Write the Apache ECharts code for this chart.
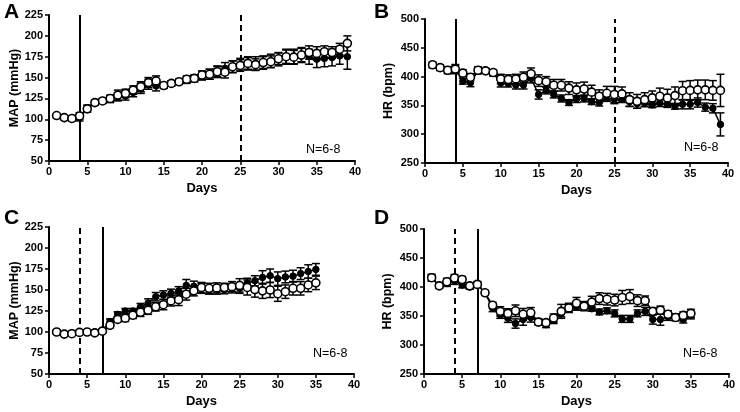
<!DOCTYPE html>
<html><head><meta charset="utf-8">
<script src="https://cdn.jsdelivr.net/npm/echarts@6/dist/echarts.min.js"></script>
<style>html,body{margin:0;padding:0;background:#fff}#c{width:740px;height:412px}</style>
</head><body><div id="c"></div>
<script>
// ---- Data ----
const daysAB = [1,2,3,4,5,6,7,8,9,10,11,12,13,14,15,16,17,18,19,20,21,22,23,24,25,26,27,28,29,30,31,32,33,34,35,36,37,38,39];
const daysCD = [1,2,3,4,5,6,7,8,9,10,11,12,13,14,15,16,17,18,19,20,21,22,23,24,25,26,27,28,29,30,31,32,33,34,35];
const xTicks = [0,5,10,15,20,25,30,35,40];
const mapTicks = [50,75,100,125,150,175,200,225];
const hrTicks = [250,300,350,400,450,500];

// Panel A: MAP
const aOpen   = [104.5,102,101,104,112.5,120,122,125,129,131,135,139,144,146,140.5,143,145,148,149,153,154,157,156.5,163,164.5,167,165.5,168,169,172.5,175,174.5,177,180,179,181,180,184,191];
const aOpenE  = [2,2,2,4,4,3,2,4,6,5,5,6,6,6,3,3,3,4,4,5,6,6,7,7,7,7,7,7,7,7,8,8,8,8,8,7,7,7,9];
const aFill   = [104,101,100,102,113,120,122,124,127,128,132,137,142,140,140,143,145,147,149,152,154,157,161,163,166,167,167,168,170,172,175,175,177,175,172,173,174,176,175];
const aFillE  = [2,2,2,4,4,3,3,4,5,5,5,6,6,6,3,3,3,4,4,5,6,7,7,7,7,8,8,8,8,8,9,9,9,9,10,10,10,10,15];
// Panel B: HR
const bOpen   = [420.5,415.5,411,413,406,399,411,410,407,396,395,396,399,405,393,391,385,385,380,377,378.5,373,366,371,369,370,360,357,360,363,366,363,367,375.5,376,377,377,376,376];
const bOpenE  = [5,5,6,8,6,6,6,4,5,8,8,8,9,10,10,9,10,10,11,12,12,12,11,12,14,12,12,12,12,12,14,15,15,16,17,17,17,17,28];
const bFill   = [420,415,411,413,392,389.5,410,410,406,389,388,385.5,385.5,397,369,376,369,362,355,361,362,356.5,355,362,361,361,356.5,353,354,351,354,352.5,348.5,352,352,355,347,345,317];
const bFillE  = [4,4,5,6,5,7,5,4,5,7,6,7,7,8,8,6,6,6,5,6,6,5,6,5,8,6,8,8,6,5,6,6,5,8,8,8,7,8,20];
// Panel C: MAP
const cOpen   = [100,97.5,98,99.5,100,99,101,108,115,116.5,120,123.5,126,130,132.5,137,138.5,145,149,153,152,152.5,153,154,155.5,153,150.5,149,150,145.5,148,152,152,156,158.5];
const cOpenE  = [2,2,2,2,2,2,2,3,3,4,4,5,5,5,6,6,7,7,6,6,6,6,5,6,8,9,9,9,9,9,8,8,8,8,8];
const cFill   = [100,98,99,100,100,100,102,112.5,121,125,125,130,134.5,142,144,146,149,155.5,154.5,152,150,150,150.5,151.5,152,158,161,165,167,163.5,165.5,166.5,169.5,172,174.5];
const cFillE  = [2,2,2,2,2,2,2,3,3,3,3,4,5,5,5,5,5,7,6,6,5,5,5,5,6,6,6,8,8,8,7,7,7,8,7];
// Panel D: HR
const dOpen   = [416,402,409,415.5,413,402,404.5,390,368.5,358,354.5,359,353,355.5,339.5,338.5,346.5,358,364,372,367,374,380,379,377.5,382,383.5,376.5,376.5,358,360,353,347.5,351,354.5];
const dOpenE  = [6,4,6,6,5,5,5,4,5,8,8,10,10,9,5,5,7,12,8,10,8,10,10,10,10,12,12,10,8,6,7,6,5,6,7];
const dFill   = [416,402,406,410.5,403.5,400,404,390,363.5,352,346,337,344,347.5,340.5,335,343,354.5,363.5,367,368.5,362.5,357,359,354.5,345,345,354.5,358,344,344,348.5,347.5,344,351];
const dFillE  = [5,4,5,6,5,4,5,4,6,6,7,8,10,8,5,5,6,6,6,7,6,4,5,5,6,6,6,6,7,8,10,6,6,6,6];

// ---- Chart ----
const FONT = 'Liberation Sans, Arial, sans-serif';
const grids = [
  {left:49, top:15, width:306, height:146},
  {left:425, top:19, width:303, height:144},
  {left:49, top:227, width:305, height:147},
  {left:424, top:229, width:305, height:145}
];
function xAx(i){
  return {type:'value', gridIndex:i, min:0, max:40, interval:5,
    name:'Days', nameLocation:'middle', nameGap:21,
    nameTextStyle:{fontFamily:FONT, fontWeight:'bold', fontSize:13, color:'#000'},
    axisLine:{show:true, onZero:false, lineStyle:{color:'#000', width:2}},
    axisTick:{show:true, length:4, lineStyle:{color:'#000', width:1.5}},
    axisLabel:{fontFamily:FONT, fontWeight:'bold', fontSize:11, color:'#000', margin:5,
      formatter:v=> xTicks.includes(v)? String(v):''},
    splitLine:{show:false}};
}
function yAx(i, ticks, name, gap){
  return {type:'value', gridIndex:i, min:ticks[0], max:ticks[ticks.length-1], interval:ticks[1]-ticks[0],
    name:name, nameLocation:'middle', nameGap:gap, nameRotate:90,
    nameTextStyle:{fontFamily:FONT, fontWeight:'bold', fontSize:12.5, color:'#000'},
    axisLine:{show:true, onZero:false, lineStyle:{color:'#000', width:2}},
    axisTick:{show:true, length:4, lineStyle:{color:'#000', width:1.5}},
    axisLabel:{fontFamily:FONT, fontWeight:'bold', fontSize:11, color:'#000', margin:6},
    splitLine:{show:false}};
}
function errData(days, vals, errs){ return days.map((d,k)=>[d, vals[k]-errs[k], vals[k]+errs[k]]); }
function renderErr(params, api){
  const x=api.value(0), lo=api.value(1), hi=api.value(2);
  const p1=api.coord([x,lo]), p2=api.coord([x,hi]);
  const w=4, st={stroke:'#000', lineWidth:1.5};
  return {type:'group', children:[
    {type:'line', shape:{x1:p1[0],y1:p1[1],x2:p2[0],y2:p2[1]}, style:st},
    {type:'line', shape:{x1:p1[0]-w,y1:p1[1],x2:p1[0]+w,y2:p1[1]}, style:st},
    {type:'line', shape:{x1:p2[0]-w,y1:p2[1],x2:p2[0]+w,y2:p2[1]}, style:st}
  ]};
}
function errSeries(i, days, vals, errs, z){
  return {type:'custom', xAxisIndex:i, yAxisIndex:i, renderItem:renderErr, z:z,
    encode:{x:0, y:[1,2]}, data:errData(days, vals, errs), silent:true, animation:false};
}
function lineSeries(i, days, vals, open, z, marks){
  const s = {type:'line', xAxisIndex:i, yAxisIndex:i, z:z, animation:false, silent:true,
    data: days.map((d,k)=>[d, vals[k]]),
    symbol:'circle', symbolSize: open? 8:6.5, showAllSymbol:true,
    lineStyle:{color:'#000', width:1.5},
    itemStyle:{color: open? '#fff':'#000', borderColor:'#000', borderWidth: open? 1.6:1}};
  if(marks){
    s.markLine = {silent:true, symbol:'none', animation:false, label:{show:false},
      data: marks.map(m=>({xAxis:m[0], lineStyle:{color:'#000', width:2, type: m[1]? [6,4]:'solid'}}))};
  }
  return s;
}
const panels = [
  {days:daysAB, o:aOpen, oe:aOpenE, f:aFill, fe:aFillE, marks:[[4,false],[25,true]]},
  {days:daysAB, o:bOpen, oe:bOpenE, f:bFill, fe:bFillE, marks:[[4,false],[25,true]]},
  {days:daysCD, o:cOpen, oe:cOpenE, f:cFill, fe:cFillE, marks:[[4,true],[7,false]]},
  {days:daysCD, o:dOpen, oe:dOpenE, f:dFill, fe:dFillE, marks:[[4,true],[7,false]]}
];
const series = [];
panels.forEach((p,i)=>{
  series.push(errSeries(i, p.days, p.f, p.fe, 2));
  series.push(errSeries(i, p.days, p.o, p.oe, 3));
  series.push(lineSeries(i, p.days, p.f, false, 4, p.marks));
  series.push(lineSeries(i, p.days, p.o, true, 5, null));
});
const letterStyle = {fontFamily:FONT, fontWeight:'bold', fontSize:21, fill:'#000'};
const nStyle = {fontFamily:FONT, fontSize:12.5, fill:'#000'};
const option = {
  backgroundColor:'#fff',
  animation:false,
  grid: grids.map(g=>Object.assign({outerBoundsMode:'none', containLabel:false}, g)),
  xAxis:[xAx(0),xAx(1),xAx(2),xAx(3)],
  yAxis:[yAx(0,mapTicks,'MAP (mmHg)',28), yAx(1,hrTicks,'HR (bpm)',30), yAx(2,mapTicks,'MAP (mmHg)',28), yAx(3,hrTicks,'HR (bpm)',30)],
  graphic:[
    {type:'text', left:4, top:2, style:Object.assign({text:'A'}, letterStyle)},
    {type:'text', left:374, top:2, style:Object.assign({text:'B'}, letterStyle)},
    {type:'text', left:4, top:208, style:Object.assign({text:'C'}, letterStyle)},
    {type:'text', left:374, top:208, style:Object.assign({text:'D'}, letterStyle)},
    {type:'text', left:306, top:143, style:Object.assign({text:'N=6-8'}, nStyle)},
    {type:'text', left:684, top:141, style:Object.assign({text:'N=6-8'}, nStyle)},
    {type:'text', left:313, top:347, style:Object.assign({text:'N=6-8'}, nStyle)},
    {type:'text', left:683, top:347, style:Object.assign({text:'N=6-8'}, nStyle)}
  ],
  series: series
};
const chart = echarts.init(document.getElementById('c'), null, {renderer:'canvas'});
chart.setOption(option);
</script>
</body></html>
